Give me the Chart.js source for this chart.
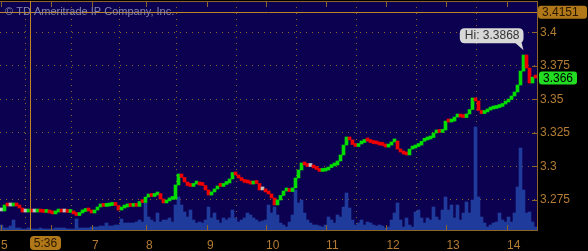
<!DOCTYPE html>
<html>
<head>
<meta charset="utf-8">
<script src="https://cdn.jsdelivr.net/npm/chart.js@4/dist/chart.umd.min.js"></script>
<style>
  html, body { margin: 0; padding: 0; background: #000; }
  #wrap { width: 588px; height: 251px; }
</style>
</head>
<body>
<div id="wrap"><canvas id="chart" width="588" height="251"></canvas></div>
<script>
// closing price of each bar (one bar per time slot)
const closes = [
    3.2668, 3.2713, 3.2705, 3.2705, 3.2709, 3.2705, 3.2690, 3.2660, 3.2660, 3.2664,
    3.2660, 3.2660, 3.2664, 3.2660, 3.2657, 3.2660, 3.2653, 3.2646, 3.2660, 3.2664,
    3.2660, 3.2660, 3.2657, 3.2660, 3.2646, 3.2634, 3.2653, 3.2664, 3.2672, 3.2668,
    3.2653, 3.2675, 3.2698, 3.2705, 3.2702, 3.2705, 3.2709, 3.2713, 3.2709, 3.2675,
    3.2690, 3.2698, 3.2705, 3.2702, 3.2705, 3.2702, 3.2739, 3.2731, 3.2772, 3.2780,
    3.2776, 3.2787, 3.2798, 3.2757, 3.2728, 3.2743, 3.2754, 3.2757, 3.2862, 3.2944,
    3.2918, 3.2884, 3.2858, 3.2851, 3.2869, 3.2873, 3.2862, 3.2858, 3.2825, 3.2787,
    3.2810, 3.2832, 3.2854, 3.2851, 3.2866, 3.2877, 3.2907, 3.2955, 3.2937, 3.2914,
    3.2895, 3.2881, 3.2877, 3.2869, 3.2877, 3.2873, 3.2825, 3.2825, 3.2810, 3.2795,
    3.2765, 3.2713, 3.2750, 3.2784, 3.2817, 3.2821, 3.2813, 3.2840, 3.2914, 3.2974,
    3.3026, 3.3011, 3.3000, 3.3000, 3.2989, 3.2978, 3.2963, 3.2966, 3.2974, 3.2992,
    3.3004, 3.3011, 3.3041, 3.3086, 3.3160, 3.3220, 3.3198, 3.3164, 3.3149, 3.3168,
    3.3179, 3.3201, 3.3190, 3.3179, 3.3171, 3.3168, 3.3160, 3.3157, 3.3145, 3.3160,
    3.3183, 3.3190, 3.3130, 3.3108, 3.3093, 3.3086, 3.3130, 3.3138, 3.3149, 3.3160,
    3.3188, 3.3198, 3.3205, 3.3216, 3.3250, 3.3257, 3.3254, 3.3272, 3.3339, 3.3332,
    3.3339, 3.3369, 3.3388, 3.3369, 3.3365, 3.3392, 3.3425, 3.3511, 3.3489, 3.3418,
    3.3395, 3.3407, 3.3421, 3.3429, 3.3433, 3.3440, 3.3448, 3.3466, 3.3481, 3.3500,
    3.3526, 3.3556, 3.3608, 3.3712, 3.3832, 3.3735, 3.3623, 3.3667, 3.3660
];
const firstOpen = 3.2668;

// traded volume per bar
const volumes = [
    5, 2, 2, 4, 10, 2, 2, 1, 1, 2,
    1, 1, 1, 2, 1, 1, 1, 1, 2, 2,
    2, 2, 1, 1, 1, 11, 2, 2, 2, 2,
    3, 3, 3, 4, 4, 7, 4, 4, 5, 5,
    11, 7, 7, 7, 7, 8, 10, 8, 27, 13,
    10, 8, 17, 8, 10, 10, 12, 8, 25, 33,
    25, 18, 13, 20, 10, 7, 8, 7, 10, 23,
    12, 17, 10, 7, 12, 10, 12, 20, 12, 8,
    10, 12, 17, 15, 12, 10, 8, 9, 10, 25,
    17, 23, 15, 7, 5, 3, 8, 15, 40, 27,
    30, 17, 10, 7, 5, 5, 4, 3, 5, 13,
    10, 7, 15, 13, 23, 37, 22, 10, 5, 7,
    10, 5, 8, 7, 5, 4, 5, 4, 2, 3,
    10, 17, 27, 10, 3, 12, 5, 3, 18, 20,
    12, 7, 12, 10, 23, 13, 10, 20, 33, 20,
    25, 12, 25, 10, 17, 28, 17, 30, 103, 33,
    13, 7, 3, 5, 7, 8, 17, 10, 8, 13,
    8, 17, 43, 82, 40, 17, 18, 8, 3
];

// session boundaries (bar index) and their day labels
const dayTicks = [-0.2, 16.5, 30.2, 48.2, 68.5, 88.2, 108.2, 128.3, 148.3, 168.5];
const dayLabels = ['5', '6', '7', '8', '9', '10', '11', '12', '13', '14'];
const priceTicks = [3.275, 3.3, 3.325, 3.35, 3.375, 3.4];

const priceMin = 3.2526;
const priceMax = 3.4235;
const volumeMax = 229;

const crossIndex = 9.5;
const crossLabel = '5:36';
const crossPrice = 3.4151;
const hiIndex = 174;
const hiPrice = 3.3868;
const lastPrice = 3.366;

const ORANGE = '#b47c34';
const GRID = '#8c6428';

const candles = closes.map((c, i) => ({ x: i, y: [i === 0 ? firstOpen : closes[i - 1], c] }));
const candleColors = candles.map(d => d.y[1] > d.y[0] ? '#00dd00' : (d.y[1] < d.y[0] ? '#ee0000' : '#c0c0c0'));
const volumeBars = volumes.map((v, i) => ({ x: i, y: v }));

function roundRect(ctx, x, y, w, h, r) {
    ctx.beginPath();
    ctx.moveTo(x + r, y);
    ctx.lineTo(x + w - r, y);
    ctx.quadraticCurveTo(x + w, y, x + w, y + r);
    ctx.lineTo(x + w, y + h - r);
    ctx.quadraticCurveTo(x + w, y + h, x + w - r, y + h);
    ctx.lineTo(x + r, y + h);
    ctx.quadraticCurveTo(x, y + h, x, y + h - r);
    ctx.lineTo(x, y + r);
    ctx.quadraticCurveTo(x, y, x + r, y);
    ctx.closePath();
}

const decorations = {
    id: 'decorations',
    beforeDraw(chart) {
        const { ctx, chartArea: a } = chart;
        ctx.save();
        ctx.fillStyle = '#000';
        ctx.fillRect(0, 0, chart.width, chart.height);
        ctx.fillStyle = '#0c0050';
        ctx.fillRect(a.left, a.top, a.right - a.left, a.bottom - a.top);
        ctx.restore();
    },
    afterDatasetsDraw(chart) {
        const { ctx, chartArea: a, scales } = chart;
        const xs = scales.x, ys = scales.y;
        ctx.save();
        ctx.strokeStyle = GRID;
        ctx.lineWidth = 1;
        ctx.beginPath();
        // top border and inner tick marks
        ctx.moveTo(a.left, a.top + 0.5);
        ctx.lineTo(a.right, a.top + 0.5);
        dayTicks.forEach(t => {
            const px = Math.round(xs.getPixelForValue(t)) + 0.5;
            ctx.moveTo(px, a.top); ctx.lineTo(px, a.top + 6);
            ctx.moveTo(px, a.bottom); ctx.lineTo(px, a.bottom - 5);
        });
        priceTicks.forEach(t => {
            const py = Math.round(ys.getPixelForValue(t)) + 0.5;
            ctx.moveTo(a.right - 5, py); ctx.lineTo(a.right, py);
        });
        ctx.stroke();

        // crosshair
        const cx = Math.round(xs.getPixelForValue(crossIndex)) + 0.5;
        const cy = Math.round(ys.getPixelForValue(crossPrice)) + 0.5;
        ctx.strokeStyle = '#c08424';
        ctx.beginPath();
        ctx.moveTo(cx, a.top); ctx.lineTo(cx, a.bottom);
        ctx.moveTo(a.left, cy); ctx.lineTo(a.right, cy);
        ctx.stroke();
        ctx.restore();
    },
    afterDraw(chart) {
        const { ctx, chartArea: a, scales } = chart;
        const xs = scales.x, ys = scales.y;
        ctx.save();
        ctx.font = '11px "Liberation Sans", Arial, sans-serif';
        ctx.fillStyle = '#8484a8';
        ctx.textBaseline = 'middle';
        ctx.textAlign = 'left';
        ctx.fillText('\u00a9 TD Ameritrade IP Company, Inc.', 5, 12);

        ctx.font = '12px "Liberation Sans", Arial, sans-serif';
        // crosshair time label
        const cx = Math.round(xs.getPixelForValue(crossIndex));
        ctx.fillStyle = '#b07818';
        roundRect(ctx, cx, 236, 31, 14, 4);
        ctx.fill();
        ctx.fillStyle = '#2a1800';
        ctx.textAlign = 'center';
        ctx.fillText(crossLabel, cx + 15.5, 243.5);

        // crosshair price label
        const cy = ys.getPixelForValue(crossPrice);
        ctx.fillStyle = '#b07818';
        roundRect(ctx, a.right + 1, cy - 6.5, 49, 13, 3);
        ctx.fill();
        ctx.fillStyle = '#2a1800';
        ctx.textAlign = 'left';
        ctx.fillText(crossPrice.toFixed(4), a.right + 5, cy + 0.5);

        // last price label
        const ly = ys.getPixelForValue(lastPrice);
        ctx.fillStyle = '#22dd22';
        roundRect(ctx, a.right + 2, ly - 6.5, 38, 13, 3);
        ctx.fill();
        ctx.fillStyle = '#000';
        ctx.fillText(String(lastPrice), a.right + 6, ly + 0.5);

        // high callout
        const hx = xs.getPixelForValue(hiIndex);
        const hy = ys.getPixelForValue(hiPrice);
        const txt = 'Hi: ' + hiPrice.toFixed(4);
        const w = ctx.measureText(txt).width + 9;
        const bx = hx - w, by = hy - 22;
        ctx.fillStyle = '#d8d8d8';
        roundRect(ctx, bx, by, w, 15, 5);
        ctx.fill();
        ctx.beginPath();
        ctx.moveTo(hx - 9, by + 14);
        ctx.lineTo(hx - 2, by + 14);
        ctx.lineTo(hx, hy);
        ctx.closePath();
        ctx.fill();
        ctx.fillStyle = '#333';
        ctx.fillText(txt, bx + 5, by + 8);
        ctx.restore();
    }
};

new Chart(document.getElementById('chart').getContext('2d'), {
    type: 'bar',
    data: {
        datasets: [
            {
                label: 'Price',
                data: candles,
                backgroundColor: candleColors,
                borderWidth: 0,
                minBarLength: 3,
                grouped: false,
                barPercentage: 1,
                categoryPercentage: 1,
                yAxisID: 'y',
                order: 0
            },
            {
                label: 'Volume',
                data: volumeBars,
                backgroundColor: '#1f3c9c',
                borderWidth: 0,
                grouped: false,
                barPercentage: 1,
                categoryPercentage: 1,
                yAxisID: 'vol',
                order: 1
            }
        ]
    },
    options: {
        responsive: false,
        animation: false,
        layout: { padding: { top: 1, left: 0, right: 0, bottom: 0 } },
        plugins: { legend: { display: false }, tooltip: { enabled: false } },
        scales: {
            x: {
                type: 'linear',
                min: -0.5,
                max: 178.5,
                offset: false,
                afterBuildTicks: s => { s.ticks = dayTicks.map(v => ({ value: v })); },
                afterFit: s => { s.height = 21; s.paddingLeft = 0; s.paddingRight = 0; },
                grid: { color: GRID, drawTicks: false, lineWidth: 1 },
                border: { display: true, color: GRID, dash: [1, 5] },
                ticks: {
                    color: ORANGE,
                    font: { family: '"Liberation Sans", Arial, sans-serif', size: 12 },
                    padding: 8,
                    align: 'start',
                    maxRotation: 0,
                    autoSkip: false,
                    callback: (v, i) => dayLabels[i]
                }
            },
            y: {
                position: 'right',
                min: priceMin,
                max: priceMax,
                afterBuildTicks: s => { s.ticks = priceTicks.map(v => ({ value: v })); },
                afterFit: s => { s.width = 51; s.paddingTop = 0; s.paddingBottom = 0; },
                grid: { color: GRID, drawTicks: false, lineWidth: 1 },
                border: { display: true, color: GRID, dash: [1, 5] },
                ticks: {
                    color: ORANGE,
                    font: { family: '"Liberation Sans", Arial, sans-serif', size: 12 },
                    padding: 3,
                    callback: v => String(+v.toFixed(3))
                }
            },
            vol: {
                display: false,
                min: 0,
                max: volumeMax
            }
        }
    },
    plugins: [decorations]
});
</script>
</body>
</html>
